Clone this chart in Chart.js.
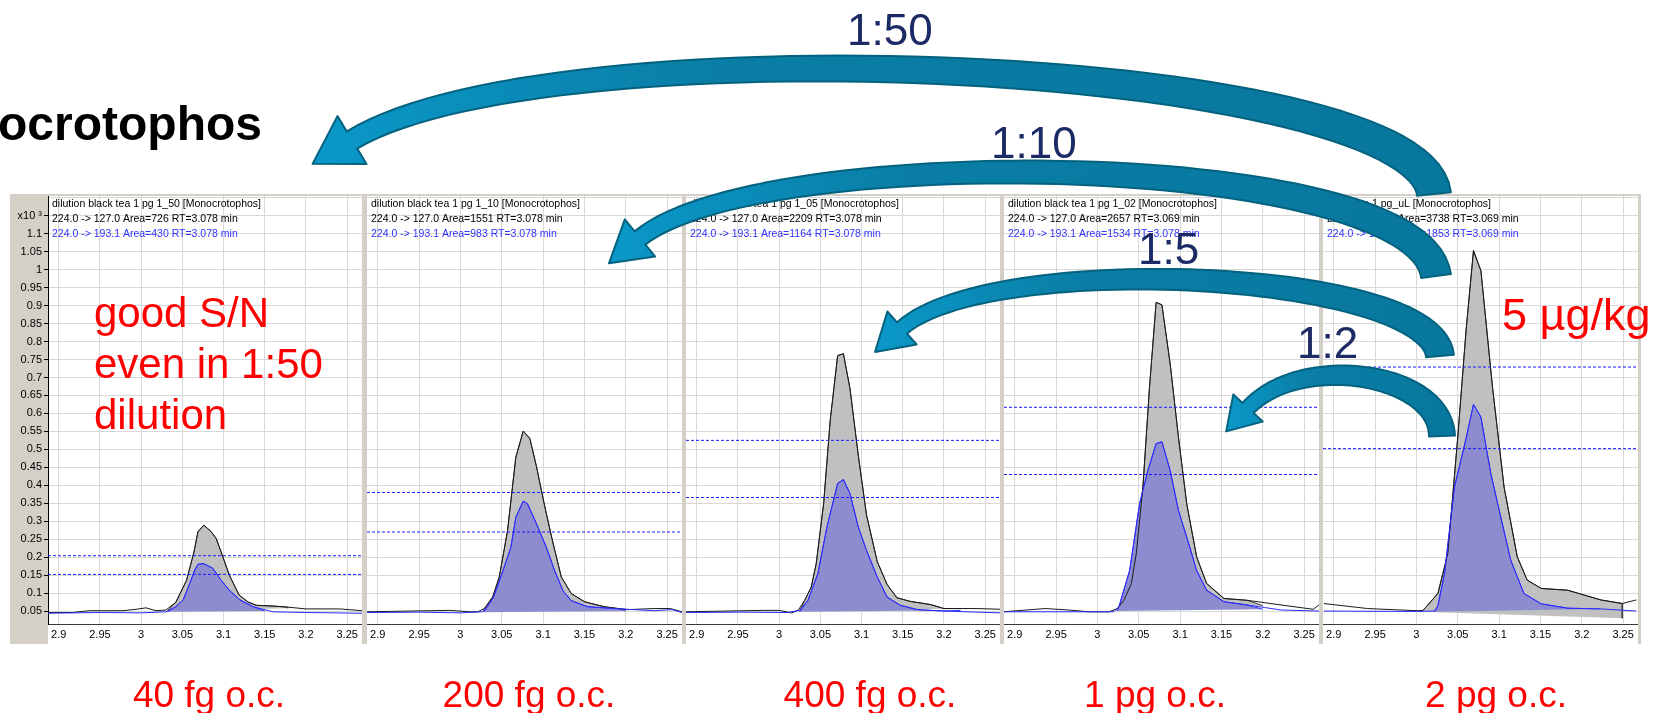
<!DOCTYPE html>
<html>
<head>
<meta charset="utf-8">
<title>Monocrotophos dilution series</title>
<script src="https://cdn.jsdelivr.net/npm/chart.js@4/dist/chart.umd.min.js"></script>
<style>
  html, body { margin: 0; padding: 0; background: #fff; }
  #stage { position: relative; width: 1671px; height: 713px; overflow: hidden; }
  #frame { position: absolute; left: 10px; top: 194px; width: 1631px; height: 450px; background: #d4d0c8; }
  #stage canvas { position: absolute; }
  #overlay { position: absolute; left: 0; top: 0; }
</style>
</head>
<body>
<div id="stage">
  <div id="frame"></div>
  <svg id="overlay" width="1671" height="713" xmlns="http://www.w3.org/2000/svg"></svg>
</div>
<script>
// Monocrotophos in black tea, 5 injections of a dilution series.
// Black = quantifier 224.0 -> 127.0, blue = qualifier 224.0 -> 193.1.
// Values are x10^3 counts.

const X_TICKS = [2.9, 2.95, 3, 3.05, 3.1, 3.15, 3.2, 3.25];
const Y_TICKS = [0.05, 0.1, 0.15, 0.2, 0.25, 0.3, 0.35, 0.4, 0.45, 0.5, 0.55, 0.6,
  0.65, 0.7, 0.75, 0.8, 0.85, 0.9, 0.95, 1, 1.05, 1.1, 1.15, 1.2];
const X_RANGE = [2.887, 3.268];
const Y_RANGE = [0.014, 1.205];

const SAMPLE_NAMES = ['dilution black tea 1 pg 1_50', 'dilution black tea 1 pg 1_10',
  'dilution black tea 1 pg 1_05', 'dilution black tea 1 pg 1_02', 'black tea 1 pg_uL'];
const QUANT_AREAS = [726, 1551, 2209, 2657, 3738];
const QUANT_RT = [3.078, 3.078, 3.078, 3.069, 3.069];
const QUAL_AREAS = [430, 983, 1164, 1534, 1853];
const QUAL_RT = [3.078, 3.078, 3.078, 3.078, 3.069];
const AMOUNTS = ['40 fg o.c.', '200 fg o.c.', '400 fg o.c.', '1 pg o.c.', '2 pg o.c.'];
const DILUTIONS = ['1:50', '1:10', '1:5', '1:2'];
const DASH_HIGH = [0.204, 0.380, 0.525, 0.617, 0.729];
const DASH_LOW = [0.152, 0.270, 0.366, 0.430, 0.502];

// panel 1 (1:50)
const p1Quant = [[2.887,0.046],[2.917,0.046],[2.937,0.051],[2.978,0.051],[2.994,0.055],[3.006,0.059],
  [3.018,0.051],[3.030,0.053],[3.042,0.074],[3.055,0.135],[3.064,0.213],[3.069,0.271],[3.076,0.289],
  [3.085,0.271],[3.091,0.252],[3.097,0.215],[3.107,0.150],[3.119,0.094],[3.130,0.075],[3.140,0.066],
  [3.160,0.064],[3.178,0.061],[3.200,0.056],[3.241,0.056],[3.268,0.051]];
const p1Qual = [[2.887,0.044],[2.950,0.046],[3.000,0.045],[3.030,0.048],[3.042,0.062],[3.051,0.081],
  [3.059,0.127],[3.065,0.164],[3.069,0.180],[3.076,0.182],[3.087,0.169],[3.097,0.136],[3.107,0.108],
  [3.120,0.081],[3.136,0.062],[3.160,0.048],[3.200,0.046],[3.268,0.044]];
const p1QuantBase = [[3.032,0.051],[3.178,0.058]];
const p1QualBase = [[3.032,0.048],[3.150,0.050]];

// panel 2 (1:10)
const p2Quant = [[2.887,0.048],[2.963,0.051],[2.987,0.052],[3.011,0.048],[3.021,0.048],[3.029,0.057],
  [3.039,0.089],[3.047,0.145],[3.057,0.274],[3.067,0.478],[3.076,0.551],[3.084,0.530],[3.092,0.452],
  [3.102,0.341],[3.112,0.239],[3.122,0.145],[3.134,0.099],[3.150,0.076],[3.174,0.062],[3.202,0.054],
  [3.234,0.057],[3.254,0.057],[3.268,0.048]];
const p2Qual = [[2.887,0.046],[2.950,0.047],[3.000,0.045],[3.026,0.048],[3.032,0.060],[3.040,0.089],
  [3.050,0.153],[3.061,0.227],[3.067,0.311],[3.076,0.356],[3.081,0.349],[3.092,0.293],[3.104,0.227],
  [3.114,0.162],[3.124,0.107],[3.134,0.079],[3.154,0.062],[3.194,0.056],[3.234,0.051],[3.256,0.054],
  [3.268,0.046]];
const p2QuantBase = [[3.028,0.048],[3.200,0.054]];
const p2QualBase = [[3.028,0.047],[3.200,0.050]];

// panel 3 (1:5)
const p3Quant = [[2.887,0.048],[2.981,0.052],[3.000,0.052],[3.015,0.045],[3.023,0.052],[3.031,0.080],
  [3.039,0.117],[3.045,0.182],[3.054,0.349],[3.062,0.581],[3.071,0.761],[3.078,0.766],[3.086,0.669],
  [3.096,0.484],[3.106,0.318],[3.119,0.188],[3.131,0.124],[3.143,0.087],[3.159,0.077],[3.184,0.068],
  [3.200,0.057],[3.241,0.057],[3.268,0.055]];
const p3Qual = [[2.887,0.046],[2.950,0.047],[3.010,0.046],[3.025,0.052],[3.035,0.080],[3.047,0.154],
  [3.058,0.284],[3.071,0.405],[3.078,0.416],[3.086,0.377],[3.096,0.284],[3.106,0.219],[3.119,0.145],
  [3.131,0.089],[3.147,0.066],[3.168,0.054],[3.200,0.050],[3.268,0.045]];
const p3QuantBase = [[3.025,0.050],[3.220,0.057]];
const p3QualBase = [[3.025,0.048],[3.220,0.052]];

// panel 4 (1:2)
const p4Quant = [[2.887,0.048],[2.937,0.057],[2.965,0.053],[2.989,0.048],[3.014,0.048],[3.024,0.057],
  [3.032,0.080],[3.041,0.126],[3.047,0.210],[3.055,0.395],[3.063,0.673],[3.071,0.909],[3.078,0.902],
  [3.088,0.738],[3.098,0.534],[3.108,0.349],[3.120,0.201],[3.132,0.127],[3.153,0.085],[3.181,0.080],
  [3.222,0.067],[3.261,0.055],[3.268,0.067]];
const p4Qual = [[2.887,0.048],[3.020,0.048],[3.026,0.062],[3.039,0.163],[3.051,0.349],[3.061,0.441],
  [3.071,0.516],[3.078,0.521],[3.088,0.441],[3.098,0.330],[3.108,0.256],[3.120,0.163],[3.132,0.108],
  [3.153,0.076],[3.181,0.067],[3.202,0.060],[3.222,0.053],[3.268,0.050]];
const p4QuantBase = [[3.024,0.052],[3.200,0.065]];
const p4QualBase = [[3.024,0.050],[3.200,0.055]];

// panel 5 (undiluted, 5 ug/kg)
const p5Quant = [[2.888,0.071],[2.941,0.057],[3.001,0.051],[3.008,0.052],[3.026,0.099],[3.038,0.210],
  [3.050,0.534],[3.060,0.830],[3.069,1.053],[3.078,0.997],[3.092,0.673],[3.106,0.395],[3.122,0.201],
  [3.134,0.136],[3.151,0.113],[3.183,0.108],[3.223,0.081],[3.249,0.071],[3.266,0.081]];
const p5Qual = [[2.888,0.050],[3.000,0.049],[3.022,0.050],[3.026,0.065],[3.034,0.155],[3.046,0.395],
  [3.060,0.530],[3.069,0.625],[3.078,0.590],[3.090,0.432],[3.102,0.312],[3.114,0.192],[3.130,0.099],
  [3.151,0.070],[3.183,0.058],[3.223,0.056],[3.266,0.050]];
const p5QuantBase = [[3.005,0.048],[3.249,0.030]];
const p5QualBase = [[3.022,0.048],[3.222,0.056]];

const QUANT = [p1Quant, p2Quant, p3Quant, p4Quant, p5Quant];
const QUAL = [p1Qual, p2Qual, p3Qual, p4Qual, p5Qual];
const QUANT_BASE = [p1QuantBase, p2QuantBase, p3QuantBase, p4QuantBase, p5QuantBase];
const QUAL_BASE = [p1QualBase, p2QualBase, p3QualBase, p4QualBase, p5QualBase];

// ---- layout ----
const PANEL_LEFT = [10, 367, 686, 1004, 1323];
const PANEL_WIDTH = [352, 315, 314, 315, 315];
const PANEL_TOP = 195;
const PANEL_HEIGHT = 449;
const FONT = '"Liberation Sans", Arial, sans-serif';

Chart.defaults.font.family = FONT;
Chart.defaults.color = '#000';

const toXY = pts => pts.map(([x, y]) => ({ x, y }));
const fmt = v => String(parseFloat(v.toFixed(2)));

// closed polygon: baseline start -> trace inside window -> baseline end
function areaOf(trace, base) {
  const [s, e] = base;
  return [s, ...trace.filter(p => p[0] > s[0] && p[0] <= e[0]), e];
}

const headerPlugin = {
  id: 'header',
  beforeDraw(chart) {
    const { ctx, chartArea: a } = chart;
    ctx.save();
    ctx.fillStyle = '#fff';
    ctx.fillRect(a.left, a.top, chart.width - a.left, chart.height - a.top);
    ctx.restore();
  },
  afterDatasetsDraw(chart, args, opts) {
    const { ctx, chartArea: a } = chart;
    ctx.save();
    ctx.font = '10.5px ' + FONT;
    ctx.textBaseline = 'middle';
    opts.lines.forEach((t, k) => {
      ctx.fillStyle = k === 2 ? '#3333ff' : '#000';
      ctx.fillText(t, a.left + 4, a.top + 8 + k * 15);
    });
    ctx.restore();
  }
};

function buildPanel(i) {
  const stage = document.getElementById('stage');
  const canvas = document.createElement('canvas');
  canvas.width = PANEL_WIDTH[i];
  canvas.height = PANEL_HEIGHT;
  canvas.style.left = PANEL_LEFT[i] + 'px';
  canvas.style.top = PANEL_TOP + 'px';
  stage.insertBefore(canvas, document.getElementById('overlay'));
  const showY = i === 0;

  const dash = v => [{ x: X_RANGE[0], y: v }, { x: X_RANGE[1], y: v }];
  const datasets = [
    { data: dash(DASH_HIGH[i]), borderColor: '#1a1aff', borderDash: [3, 2], order: 0 },
    { data: dash(DASH_LOW[i]), borderColor: '#1a1aff', borderDash: [3, 2], order: 0 },
    { data: toXY(QUAL[i]), borderColor: '#2a2aff', order: 1 },
    { data: toXY(QUANT[i]), borderColor: '#1a1a1a', order: 2 },
    { data: toXY(areaOf(QUAL[i], QUAL_BASE[i])), fill: 'shape', backgroundColor: '#8c8ccf',
      borderColor: '#3a3aff', order: 3 },
    { data: toXY(areaOf(QUANT[i], QUANT_BASE[i])), fill: 'shape', backgroundColor: '#c0c0c0',
      borderColor: '#3c3c3c', order: 4 }
  ];
  datasets.forEach(d => { d.borderWidth = 1; d.pointRadius = 0; d.tension = 0; if (!d.fill) d.fill = false; });

  new Chart(canvas, {
    type: 'line',
    data: { datasets },
    plugins: [headerPlugin],
    options: {
      responsive: false,
      animation: false,
      devicePixelRatio: 1,
      layout: { padding: { top: 1, left: 0, right: 0, bottom: 0 } },
      plugins: {
        legend: { display: false },
        tooltip: { enabled: false },
        header: {
          lines: [
            SAMPLE_NAMES[i] + ' [Monocrotophos]',
            `224.0 -> 127.0 Area=${QUANT_AREAS[i]} RT=${QUANT_RT[i].toFixed(3)} min`,
            `224.0 -> 193.1 Area=${QUAL_AREAS[i]} RT=${QUAL_RT[i].toFixed(3)} min`
          ]
        }
      },
      scales: {
        x: {
          type: 'linear',
          min: X_RANGE[0],
          max: X_RANGE[1],
          afterBuildTicks: s => { s.ticks = X_TICKS.map(value => ({ value })); },
          afterFit: s => { s.height = 20; s.paddingLeft = 0; s.paddingRight = 0; },
          grid: { color: '#d8d8d8', drawTicks: false },
          border: { color: '#3a3a3a' },
          ticks: { font: { size: 11 }, padding: 4, maxRotation: 0, autoSkip: false, callback: v => fmt(v) }
        },
        y: {
          type: 'linear',
          min: Y_RANGE[0],
          max: Y_RANGE[1],
          afterBuildTicks: s => { s.ticks = Y_TICKS.map(value => ({ value })); },
          afterFit: s => { s.width = showY ? 38 : 0; s.paddingTop = 0; s.paddingBottom = 0; },
          grid: {
            color: '#d8d8d8',
            drawTicks: showY,
            tickLength: 4,
            tickColor: c => (c.tick && c.tick.value > 1.19 ? 'rgba(0,0,0,0)' : '#000')
          },
          border: { display: showY, color: '#000' },
          ticks: {
            display: showY,
            font: { size: 11 },
            padding: 2,
            autoSkip: false,
            callback: v => (v === 1.15 ? 'x10 \u00b3' : v > 1.19 ? '' : fmt(v))
          }
        }
      }
    }
  });
}

for (let i = 0; i < 5; i++) buildPanel(i);

// ---- overlay: curved dilution arrows and annotation text ----
const SVGNS = 'http://www.w3.org/2000/svg';
const overlay = document.getElementById('overlay');

function svgEl(tag, attrs, text, parent) {
  const el = document.createElementNS(SVGNS, tag);
  Object.entries(attrs).forEach(([k, v]) => el.setAttribute(k, v));
  if (text !== undefined) el.textContent = text;
  (parent || overlay).appendChild(el);
  return el;
}

// thick tapered bezier body with a triangular head
function arrowPath(a) {
  const [p0, p1, p2, p3] = [a.tail, a.c1, a.c2, a.neck];
  const n = 60, left = [], right = [];
  for (let k = 0; k <= n; k++) {
    const t = k / n, u = 1 - t;
    const x = u*u*u*p0[0] + 3*u*u*t*p1[0] + 3*u*t*t*p2[0] + t*t*t*p3[0];
    const y = u*u*u*p0[1] + 3*u*u*t*p1[1] + 3*u*t*t*p2[1] + t*t*t*p3[1];
    const dx = 3*u*u*(p1[0]-p0[0]) + 6*u*t*(p2[0]-p1[0]) + 3*t*t*(p3[0]-p2[0]);
    const dy = 3*u*u*(p1[1]-p0[1]) + 6*u*t*(p2[1]-p1[1]) + 3*t*t*(p3[1]-p2[1]);
    const len = Math.hypot(dx, dy) || 1;
    const nx = -dy / len, ny = dx / len;
    const w = (a.wTail + (a.wNeck - a.wTail) * t) / 2;
    left.push([x + nx * w, y + ny * w]);
    right.push([x - nx * w, y - ny * w]);
  }
  const dx = p3[0] - p2[0], dy = p3[1] - p2[1], len = Math.hypot(dx, dy);
  const ux = dx / len, uy = dy / len, nx = -uy, ny = ux, h = a.headW / 2;
  const pts = [...left,
    [p3[0] + nx * h, p3[1] + ny * h],
    [p3[0] + ux * a.headLen, p3[1] + uy * a.headLen],
    [p3[0] - nx * h, p3[1] - ny * h],
    ...right.reverse()];
  return 'M' + pts.map(p => p[0].toFixed(1) + ',' + p[1].toFixed(1)).join('L') + 'Z';
}

const defs = svgEl('defs', {});
const grad = svgEl('linearGradient', { id: 'arrowFill', x1: 0, y1: 0, x2: 1, y2: 0 }, undefined, defs);
svgEl('stop', { offset: '0', 'stop-color': '#0a98c8' }, undefined, grad);
svgEl('stop', { offset: '0.35', 'stop-color': '#0a7ea6' }, undefined, grad);
svgEl('stop', { offset: '1', 'stop-color': '#08779d' }, undefined, grad);

const arrows = [
  { tail: [1434, 194], c1: [1420, 60], c2: [550, 20], neck: [352, 140], wTail: 34, wNeck: 20, headW: 56, headLen: 46 },
  { tail: [1436, 276], c1: [1420, 150], c2: [760, 140], neck: [640, 238], wTail: 30, wNeck: 17, headW: 48, headLen: 40 },
  { tail: [1440, 356], c1: [1432, 270], c2: [990, 250], neck: [902, 328], wTail: 28, wNeck: 15, headW: 44, headLen: 36 },
  { tail: [1442, 436], c1: [1440, 372], c2: [1300, 352], neck: [1248, 408], wTail: 26, wNeck: 15, headW: 40, headLen: 32 }
];
arrows.forEach(a => svgEl('path', { d: arrowPath(a), fill: 'url(#arrowFill)', stroke: '#04627f',
  'stroke-width': 2, 'stroke-linejoin': 'round' }));

function label(str, x, y, size, color, anchor, weight) {
  svgEl('text', { x, y, 'font-family': FONT, 'font-size': size, fill: color,
    'text-anchor': anchor || 'start', 'font-weight': weight || 'normal' }, str);
}

label('ocrotophos', 262, 140, 48, '#000', 'end', 'bold');

const dilutionPos = [[847, 45], [991, 158], [1138, 264], [1297, 358]];
DILUTIONS.forEach((d, k) => label(d, dilutionPos[k][0], dilutionPos[k][1], 44, '#1c2b66'));

label('good S/N', 94, 327, 42, '#ff0000');
label('even in 1:50', 94, 378, 42, '#ff0000');
label('dilution', 94, 429, 42, '#ff0000');
label('5 \u00b5g/kg', 1502, 330, 45, '#ff0000');

const amountX = [209, 529, 870, 1155, 1496];
AMOUNTS.forEach((t, k) => label(t, amountX[k], 707, 37, '#ff0000', 'middle'));
</script>
</body>
</html>
